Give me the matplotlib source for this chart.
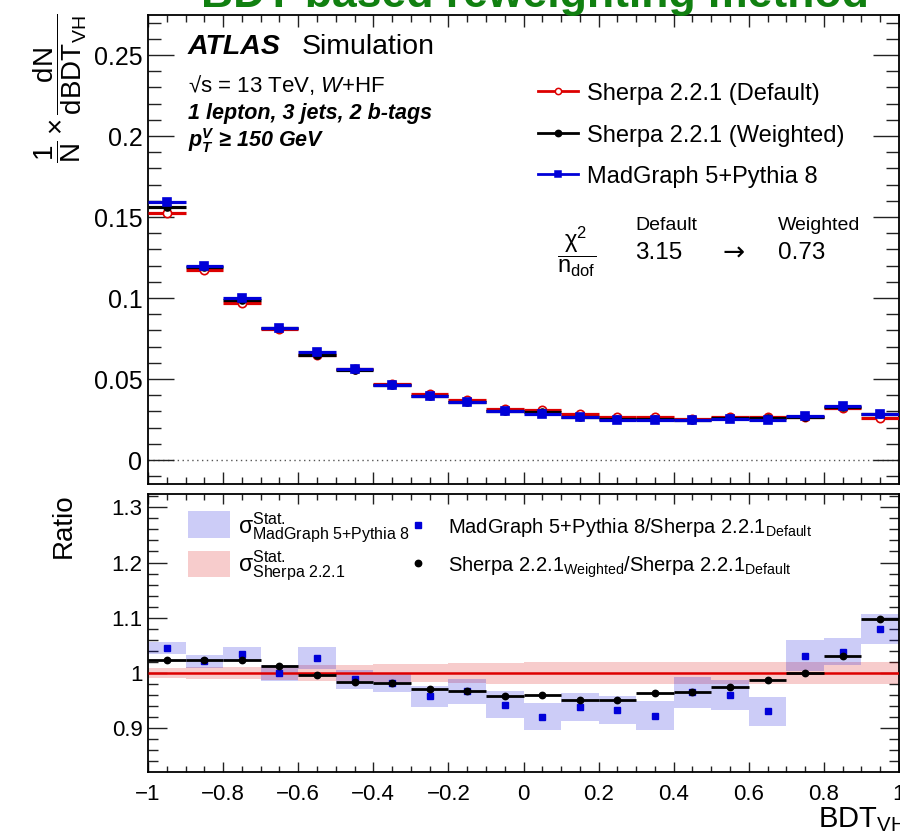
import numpy as np
import matplotlib
matplotlib.use('Agg')
import matplotlib.pyplot as plt
from matplotlib.ticker import MultipleLocator, FuncFormatter
from matplotlib.lines import Line2D
from matplotlib.patches import Rectangle

plt.rcParams['font.family'] = ['Liberation Sans', 'DejaVu Sans']
plt.rcParams['mathtext.fontset'] = 'custom'
plt.rcParams['mathtext.rm'] = 'Liberation Sans'
plt.rcParams['mathtext.it'] = 'Liberation Sans:italic'
plt.rcParams['mathtext.bf'] = 'Liberation Sans:bold'
plt.rcParams['mathtext.bfit'] = 'Liberation Sans:italic:bold'
plt.rcParams['mathtext.sf'] = 'Liberation Sans'
plt.rcParams['axes.unicode_minus'] = True

# ---------------- data ----------------
bin_edges = np.round(np.linspace(-1.0, 1.0, 21), 3)

sherpa_default = [0.1525, 0.1173, 0.0967, 0.0811, 0.0651, 0.0564, 0.0472, 0.0409, 0.0368, 0.0318,
                  0.0309, 0.0282, 0.0268, 0.0264, 0.0253, 0.0265, 0.0264, 0.0266, 0.0319, 0.0261]
sherpa_weighted = [0.1561, 0.1190, 0.0989, 0.0818, 0.0650, 0.0556, 0.0465, 0.0398, 0.0357, 0.0305,
                   0.0297, 0.0268, 0.0255, 0.0254, 0.0245, 0.0258, 0.0260, 0.0267, 0.0328, 0.0285]
madgraph = [0.1592, 0.1198, 0.0999, 0.0813, 0.0667, 0.0559, 0.0465, 0.0393, 0.0356, 0.0300,
            0.0285, 0.0265, 0.0250, 0.0244, 0.0244, 0.0254, 0.0246, 0.0274, 0.0331, 0.0282]

ratio_mg = [1.045, 1.021, 1.035, 1.000, 1.027, 0.989, 0.982, 0.958, 0.967, 0.943,
            0.921, 0.939, 0.933, 0.923, 0.965, 0.960, 0.931, 1.031, 1.039, 1.080]
ratio_weighted = [1.024, 1.024, 1.024, 1.013, 0.997, 0.984, 0.982, 0.971, 0.967, 0.958,
                  0.961, 0.952, 0.952, 0.964, 0.966, 0.975, 0.988, 1.001, 1.031, 1.098]
stat_mg = [0.011, 0.012, 0.013, 0.015, 0.020, 0.017, 0.017, 0.019, 0.023, 0.024,
           0.024, 0.025, 0.026, 0.026, 0.028, 0.027, 0.026, 0.028, 0.025, 0.027]
stat_sherpa = [0.009, 0.011, 0.011, 0.013, 0.014, 0.015, 0.016, 0.017, 0.018, 0.019,
               0.020, 0.020, 0.020, 0.020, 0.020, 0.020, 0.020, 0.020, 0.020, 0.020]

chi2_default = "3.15"
chi2_weighted = "0.73"

RED = '#dd0000'
BLUE = '#0000d8'
BLACK = 'black'
BAND_BLUE = (0.0, 0.0, 0.85, 0.2)
BAND_RED = (0.85, 0.0, 0.0, 0.2)

lo = bin_edges[:-1]
hi = bin_edges[1:]
centers = 0.5 * (lo + hi)

W, H = 900, 831
fig = plt.figure(figsize=(W / 100, H / 100), dpi=100)


def fx(px):
    return px / W


def fy(py):
    return 1 - py / H


ax1 = fig.add_axes([fx(148), fy(484), (899 - 148) / W, (484 - 15) / H])
ax2 = fig.add_axes([fx(148), fy(772), (899 - 148) / W, (772 - 494) / H])


def fmt(v, p):
    s = '%g' % round(v, 4)
    return s.replace('-', '\u2212')


def style(ax, ymaj, ymin, ylen, xlen, lsize):
    ax.set_xlim(-1, 1)
    ax.xaxis.set_major_locator(MultipleLocator(0.2))
    ax.xaxis.set_minor_locator(MultipleLocator(0.05))
    ax.yaxis.set_major_locator(MultipleLocator(ymaj))
    ax.yaxis.set_minor_locator(MultipleLocator(ymin))
    ax.xaxis.set_major_formatter(FuncFormatter(fmt))
    ax.yaxis.set_major_formatter(FuncFormatter(fmt))
    ax.tick_params(axis='both', which='both', direction='in', top=True, right=True,
                   width=1.0, labelsize=lsize, color='#222222')
    ax.tick_params(axis='y', which='major', length=ylen[0], pad=4)
    ax.tick_params(axis='y', which='minor', length=ylen[1])
    ax.tick_params(axis='x', which='major', length=xlen[0], pad=9)
    ax.tick_params(axis='x', which='minor', length=xlen[1])
    for s in ax.spines.values():
        s.set_linewidth(1.3)


# ---------------- top panel ----------------
ax1.set_ylim(-0.0148, 0.2747)
style(ax1, 0.05, 0.01, (19, 9.5), (8.5, 5), 18)
ax1.tick_params(axis='x', labelbottom=False)
ax1.axhline(0, ls=(0, (1, 2.5)), color='#555555', lw=1.0, zorder=1)

series = [
    (sherpa_default, RED, 'o', 'white', 6.0),
    (sherpa_weighted, BLACK, 'o', BLACK, 5.0),
    (madgraph, BLUE, 's', BLUE, 5.5),
]
for k, (vals, c, m, mfc, ms) in enumerate(series):
    ax1.hlines(vals, lo, hi, colors=c, lw=2.3, zorder=3 + k)
    ax1.plot(centers, vals, ls='none', marker=m, mfc=mfc, mec=c, ms=ms, mew=1.2, zorder=3.5 + k)

# ---------------- ratio panel ----------------
ax2.set_ylim(0.821, 1.324)
style(ax2, 0.1, 0.02, (14, 7.5), (7, 4), 16)
ax2.bar(centers, 2 * np.array(stat_sherpa), bottom=1 - np.array(stat_sherpa), width=0.1,
        color=BAND_RED, lw=0, zorder=2)
ax2.bar(centers, 2 * np.array(stat_mg), bottom=np.array(ratio_mg) - np.array(stat_mg), width=0.1,
        color=BAND_BLUE, lw=0, zorder=2.5)
ax2.hlines(1.0, bin_edges[0], bin_edges[-1], colors=RED, lw=1.8, zorder=3)
ax2.plot(centers, ratio_mg, ls='none', marker='s', mfc=BLUE, mec=BLUE, ms=4.6, zorder=4)
ax2.hlines(ratio_weighted, lo, hi, colors=BLACK, lw=2.0, zorder=5)
ax2.plot(centers, ratio_weighted, ls='none', marker='o', mfc=BLACK, mec=BLACK, ms=4.6, zorder=5)

# ---------------- texts ----------------
fig.text(fx(535), fy(7), 'BDT-based reweighting method', ha='center', va='baseline',
         fontsize=32, fontweight='bold', color='#118011')

fig.text(fx(188), fy(54), 'ATLAS', fontsize=20.5, fontweight='bold', fontstyle='italic',
         va='baseline')
fig.text(fx(302), fy(54), 'Simulation', fontsize=20.5, va='baseline')
fig.text(fx(188), fy(92), '\u221as = 13 TeV, $\\mathit{W}$+HF', fontsize=16, va='baseline')
fig.text(fx(188), fy(119), '1 lepton, 3 jets, 2 b-tags', fontsize=15.5, fontweight='bold',
         fontstyle='italic', va='baseline')
fig.text(fx(188), fy(147), '$\\mathbfit{p}_{\\mathbfit{T}}^{\\mathbfit{V}}$ \u2265 150 GeV',
         fontsize=15.5, fontweight='bold', fontstyle='italic', va='baseline')

# top legend
leg_top = [('Sherpa 2.2.1 (Default)', RED, 'o', 'white', 91, 100),
           ('Sherpa 2.2.1 (Weighted)', BLACK, 'o', BLACK, 133, 142),
           ('MadGraph 5+Pythia 8', BLUE, 's', BLUE, 174, 183)]
for lab, c, m, mfc, yl, yb in leg_top:
    fig.add_artist(Line2D([fx(538), fx(578)], [fy(yl), fy(yl)], color=c, lw=2.0))
    fig.add_artist(Line2D([fx(558)], [fy(yl)], ls='none', marker=m, mfc=mfc, mec=c,
                          ms=4.5, mew=1.1))
    fig.text(fx(587), fy(yb), lab, fontsize=17, va='baseline')

# chi2 block
fig.text(fx(577), fy(252), r'$\dfrac{\mathrm{\chi}^{2}}{\mathrm{n}_{\mathrm{dof}}}$', fontsize=17,
         ha='center', va='center')
fig.text(fx(635), fy(230), 'Default', fontsize=14, va='baseline')
fig.text(fx(635), fy(259), chi2_default, fontsize=17.5, va='baseline')
fig.text(fx(734), fy(254), '\u2192', fontsize=19, ha='center', va='center',
         family='DejaVu Sans')
fig.text(fx(778), fy(230), 'Weighted', fontsize=14, va='baseline')
fig.text(fx(778), fy(259), chi2_weighted, fontsize=17.5, va='baseline')

# ratio legend
fig.add_artist(Rectangle((fx(188), fy(538)), fx(230) - fx(188), fy(511) - fy(538),
                         facecolor=BAND_BLUE, lw=0))
fig.add_artist(Rectangle((fx(188), fy(577)), fx(230) - fx(188), fy(551) - fy(577),
                         facecolor=BAND_RED, lw=0))
fig.text(fx(238), fy(533), r'$\mathrm{\sigma}^{\mathrm{Stat.}}_{\mathrm{MadGraph\ 5{+}Pythia\ 8}}$',
         fontsize=16.5, va='baseline')
fig.text(fx(238), fy(571), r'$\mathrm{\sigma}^{\mathrm{Stat.}}_{\mathrm{Sherpa\ 2.2.1}}$',
         fontsize=16.5, va='baseline')
fig.add_artist(Line2D([fx(418)], [fy(525)], ls='none', marker='s', mfc=BLUE, mec=BLUE, ms=4.6))
fig.add_artist(Line2D([fx(418)], [fy(563)], ls='none', marker='o', mfc=BLACK, mec=BLACK, ms=4.6))
fig.text(fx(448), fy(533), r'MadGraph 5+Pythia 8/Sherpa 2.2.1$_{\mathrm{Default}}$',
         fontsize=14.5, va='baseline')
fig.text(fx(448), fy(572), r'Sherpa 2.2.1$_{\mathrm{Weighted}}$/Sherpa 2.2.1$_{\mathrm{Default}}$',
         fontsize=14.5, va='baseline')

# axis labels
fig.text(fx(60), fy(13), r'$\dfrac{1}{\mathrm{N}}\times\dfrac{\mathrm{dN}}{\mathrm{dBDT}_{\mathrm{VH}}}$',
         rotation=90, ha='center', va='top', fontsize=20)
fig.text(fx(64), fy(493), 'Ratio', rotation=90, ha='center', va='top', fontsize=20)
fig.text(fx(818), fy(827), r'BDT$_{\mathrm{VH}}$', fontsize=21, va='baseline')

fig.savefig('out.png', dpi=100)
